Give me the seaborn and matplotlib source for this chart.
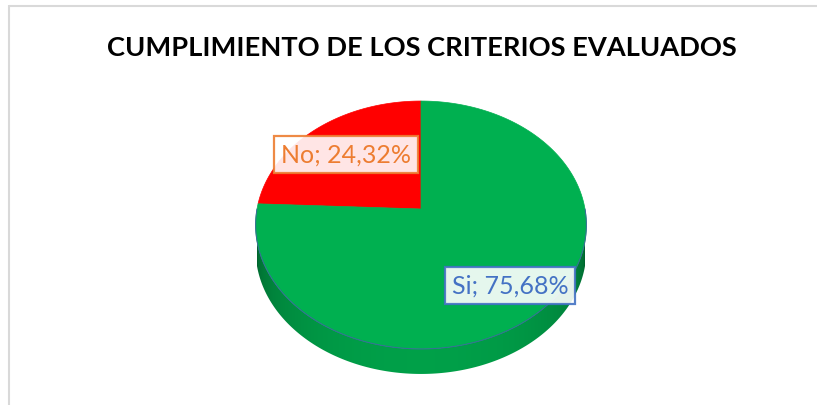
import numpy as np
import matplotlib
matplotlib.use("Agg")
import matplotlib.pyplot as plt
import matplotlib.colors as mcolors
import seaborn as sns
from matplotlib.patches import Polygon

sns.set_theme(style="white")
plt.rcParams["font.family"] = ["Lato", "DejaVu Sans"]

# datos
categorias = ["No", "Si"]
porcentajes = [24.32, 75.68]
colores = ["#FF0000", "#00B050"]
etiquetas = ["No; 24,32%", "Si; 75,68%"]
color_texto = ["#ED7D31", "#4472C4"]

titulo = "CUMPLIMIENTO DE LOS CRITERIOS EVALUADOS"

fig = plt.figure(figsize=(8.17, 4.06), dpi=100)
ax = fig.add_axes([0, 0, 1, 1])

# pie normal de matplotlib, luego se proyecta en perspectiva (estilo 3D de Excel)
wedges, _ = ax.pie(porcentajes, colors=colores, startangle=90, counterclock=True)

cx, cy = 421, 210
A, a, b = 164, 121.9, 0.129
prof = 25


def proj(x, y):
    k = 1 + b * y
    return cx + A * x / k, cy - a * y / k


info = []
for w in wedges:
    info.append((w.theta1, w.theta2, w.get_facecolor()))
    w.remove()

# lado del cilindro (parte delantera), con degradado
for t1, t2, fc in info:
    lo, hi = max(t1, 180), min(t2, 360)
    if hi <= lo:
        continue
    th = np.radians(np.linspace(lo, hi, 300))
    xs, ys = proj(np.cos(th), np.sin(th))
    verts = np.vstack([np.column_stack([xs, ys]),
                       np.column_stack([xs[::-1], ys[::-1] + prof])])
    lado = Polygon(verts, closed=True, facecolor="none", edgecolor="none")
    ax.add_patch(lado)
    u = np.linspace(-1, 1, 400)
    luz = 0.55 + 0.36 * np.clip(1 - u ** 2, 0, 1) ** 0.35
    img = np.array(mcolors.to_rgb(fc))[None, None, :] * luz[None, :, None]
    im = ax.imshow(img, extent=(cx - A, cx + A, 406, 0), aspect="auto",
                   interpolation="bilinear", zorder=1)
    im.set_clip_path(lado)

# cara superior
for t1, t2, fc in info:
    th = np.radians(np.linspace(t1, t2, 200))
    xs = np.concatenate([[0], np.cos(th)])
    ys = np.concatenate([[0], np.sin(th)])
    px, py = proj(xs, ys)
    ax.add_patch(Polygon(np.column_stack([px, py]), closed=True,
                         facecolor=fc, edgecolor=fc, lw=0.5, zorder=2))

th = np.radians(np.linspace(180, 360, 200))
px, py = proj(np.cos(th), np.sin(th))
ax.plot(px, py, color="#3a6a9a", lw=0.7, zorder=3)

# etiquetas de datos
pos_etq = [(346, 155), (510, 286)]
for (x, y), txt, col in zip(pos_etq, etiquetas, color_texto):
    ax.text(x, y, txt, ha="center", va="center", fontsize=18, color=col, zorder=5,
            bbox=dict(boxstyle="square,pad=0.28", facecolor="white", alpha=0.9,
                      edgecolor=col, linewidth=1.6))

ax.text(422, 48, titulo, ha="center", va="center", fontsize=19.6,
        fontweight="bold", color="black")

# marco del gráfico
ax.plot([9, 817], [6.5, 6.5], color="#d9d9d9", lw=1.5, solid_capstyle="butt")
ax.plot([9.5, 9.5], [6, 406], color="#d9d9d9", lw=1.5, solid_capstyle="butt")

ax.set_aspect("auto")
ax.set_xlim(0, 817)
ax.set_ylim(406, 0)
ax.axis("off")

fig.savefig("out.png", dpi=100, facecolor="white")
